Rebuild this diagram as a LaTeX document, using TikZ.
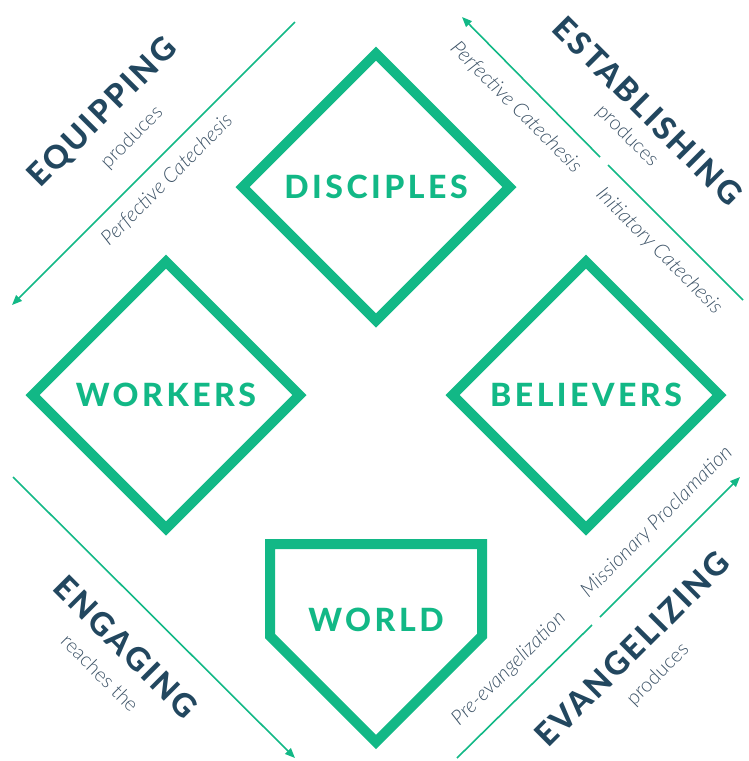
\documentclass[tikz,border=0pt]{standalone}
\usepackage{fontspec}
\setmainfont{Lato}
\newfontfamily\boxfont{Lato Heavy}[LetterSpace=11]
\newfontfamily\stagefont{Lato Heavy}[LetterSpace=8]
\newfontfamily\lightfont{Lato Light}
\usetikzlibrary{shapes.geometric, arrows.meta}

\definecolor{boxgreen}{HTML}{12B886}
\definecolor{titlenavy}{HTML}{22475F}
\definecolor{notegrey}{HTML}{3E5468}

\tikzset{
	box/.style={diamond, aspect=1, draw=boxgreen, line width=10pt, minimum width=271pt, minimum height=271pt, inner sep=0pt, text=boxgreen, font=\boxfont\fontsize{32}{32}\selectfont},
	stage/.style={text=titlenavy, font=\stagefont\fontsize{32}{32}\selectfont},
	sub/.style={text=notegrey, font=\lightfont\fontsize{20}{20}\selectfont},
	note/.style={text=notegrey, font=\lightfont\itshape\fontsize{20.5}{20.5}\selectfont},
	flow/.style={draw=boxgreen, line width=1.6pt},
	tip/.style={-{Triangle[length=10pt,width=8pt]}}
}

\begin{document}
\begin{tikzpicture}[x=1pt, y=-1pt]
			\useasboundingbox (0,0) rectangle (748,761);

			\node [box] (disciples) at (376,187) {DISCIPLES};
			\node [box] (workers) at (166,395) {WORKERS};
			\node [box] (believers) at (586,395) {BELIEVERS};

			\draw [draw=boxgreen, line width=10pt, miter limit=10] (270,544) -- (482,544) -- (482,636) -- (376,742) -- (270,636) -- cycle;
			\node [text=boxgreen, font=\boxfont\fontsize{32}{32}\selectfont] (world) at (376,620) {WORLD};

			\coordinate (equip start) at (295,22);
			\coordinate (equip end) at (12,305);
			\coordinate (establish start) at (743,300);
			\coordinate (establish gap a) at (608,165);
			\coordinate (establish gap b) at (600,157);
			\coordinate (establish end) at (462,17);
			\coordinate (evangel start) at (457,758);
			\coordinate (evangel gap a) at (592,625);
			\coordinate (evangel gap b) at (600,617);
			\coordinate (evangel end) at (740,477);
			\coordinate (engage start) at (13,477);
			\coordinate (engage end) at (295,758);

			\begin{scope}
				\draw [flow, tip] (equip start) -- (equip end);
				\draw [flow] (establish start) -- (establish gap a);
				\draw [flow, tip] (establish gap b) -- (establish end);
				\draw [flow] (evangel start) -- (evangel gap a);
				\draw [flow, tip] (evangel gap b) -- (evangel end);
				\draw [flow, tip] (engage start) -- (engage end);
			\end{scope}

			\begin{scope}
				\node [stage, rotate=45] (equipping) at (103,113) {EQUIPPING};
				\node [sub, rotate=45] (equipping sub) at (132,138) {produces};
				\node [note, rotate=45] (equipping note) at (167,180) {Perfective Catechesis};

				\node [stage, rotate=-45] (establishing) at (648,111) {ESTABLISHING};
				\node [sub, rotate=-45] (establishing sub) at (627,136) {produces};
				\node [note, rotate=-45] (establishing note) at (516,107) {Perfective Catechesis};
				\node [note, rotate=-45] (initiatory note) at (659,251) {Initiatory Catechesis};

				\node [stage, rotate=45] (evangelizing) at (632,649) {EVANGELIZING};
				\node [sub, rotate=45] (evangelizing sub) at (658,675) {produces};
				\node [note, rotate=45] (missionary note) at (657,522) {Missionary Proclamation};
				\node [note, rotate=45] (pre note) at (509,669) {Pre-evangelization};

				\node [stage, rotate=-45] (engaging) at (126,647) {ENGAGING};
				\node [sub, rotate=-45] (engaging sub) at (100,673) {reaches the};
			\end{scope}
		\end{tikzpicture}
\end{document}
